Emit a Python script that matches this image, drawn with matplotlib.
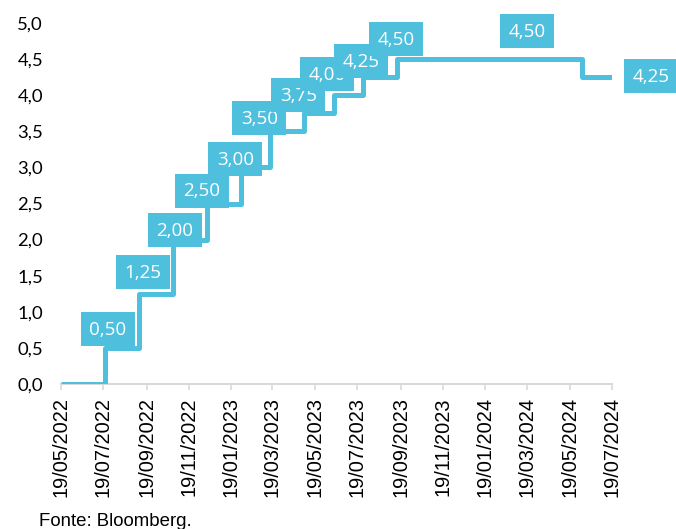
import matplotlib
matplotlib.use("Agg")
import matplotlib.pyplot as plt
import matplotlib.dates as mdates
import matplotlib.transforms as mtransforms
from matplotlib.patches import Rectangle
import pandas as pd

# policy rate path (% a.a.), one entry per change
RATE_DATES = ["2022-05-19", "2022-07-21", "2022-09-08", "2022-10-27", "2022-12-15",
              "2023-02-02", "2023-03-16", "2023-05-04", "2023-06-15", "2023-07-27",
              "2023-09-14", "2024-06-06", "2024-07-19"]
RATES = [0.00, 0.50, 1.25, 2.00, 2.50, 3.00, 3.50, 3.75, 4.00, 4.25, 4.50, 4.25, 4.25]

# dates where a boxed value label is shown
LABEL_DATES = ["2022-07-21", "2022-09-08", "2022-10-27", "2022-12-15", "2023-02-02",
               "2023-03-16", "2023-05-04", "2023-06-15", "2023-07-27", "2023-09-14",
               "2024-03-19", "2024-07-19"]
# box centre shift from the anchor point, in pixels
LABEL_SHIFT = [(3, 19), (4, 22), (2, 10), (-5, 13), (-6, 8), (-11, 13), (-6, 18),
               (-7, 21), (-2, 16), (-1, 20), (0, 28), (39, 1)]
BOX_W, BOX_H = 54, 34

BLUE = "#4EC0DE"

dates = pd.to_datetime(RATE_DATES)
rates = pd.Series(RATES, index=dates)

fig = plt.figure(figsize=(6.76, 5.29), dpi=100)
ax = fig.add_axes([61 / 676, 1 - 384 / 529, (612 - 61) / 676, (384 - 23) / 529])

ax.plot(dates, RATES, drawstyle="steps-post", color=BLUE, linewidth=3.6,
        solid_joinstyle="round", solid_capstyle="butt", zorder=2)

ax.set_xlim(dates[0], dates[-1])
ax.set_ylim(0, 5)


def fmt(v):
    return "{:.2f}".format(v).replace(".", ",")


for i, (d, (dx, dy)) in enumerate(zip(pd.to_datetime(LABEL_DATES), LABEL_SHIFT)):
    v = rates[rates.index <= d].iloc[-1]
    # fixed-size box in pixels, anchored at the data point
    anchor = mtransforms.ScaledTranslation(mdates.date2num(d), v, ax.transData)
    box = Rectangle((dx - BOX_W / 2, dy - BOX_H / 2), BOX_W, BOX_H,
                    transform=mtransforms.IdentityTransform() + anchor,
                    fc=BLUE, ec="none", zorder=3 + 2 * i, clip_on=False)
    ax.add_patch(box)
    ax.annotate(fmt(v), xy=(d, v), xytext=(dx, dy - 1), textcoords="offset pixels",
                ha="center", va="center", color="white", fontsize=13.5,
                family="Open Sans", zorder=4 + 2 * i, annotation_clip=False)

ticks = pd.date_range("2022-05-19", "2024-07-19", freq=pd.DateOffset(months=2))
ax.set_xticks(ticks)
ax.xaxis.set_major_formatter(mdates.DateFormatter("%d/%m/%Y"))
for lbl in ax.get_xticklabels():
    lbl.set_rotation(90)
    lbl.set_family("Liberation Sans")
    lbl.set_fontsize(14.4)
ax.tick_params(axis="x", length=4.5, width=1.2, color="#D9D9D9", pad=5)

yticks = [i * 0.5 for i in range(11)]
ax.set_yticks(yticks)
ax.set_yticklabels(["{:.1f}".format(t).replace(".", ",") for t in yticks],
                   family="Lato", fontsize=13.3)
ax.tick_params(axis="y", length=0, pad=13)

for side in ("top", "right", "left"):
    ax.spines[side].set_visible(False)
ax.spines["bottom"].set_color("#D9D9D9")
ax.spines["bottom"].set_linewidth(1.5)
ax.spines["bottom"].set_zorder(1)

fig.text(39 / 676, 1 - 526.5 / 529, "Fonte: Bloomberg.", family="Liberation Sans",
         fontsize=13.4, va="baseline", ha="left")

fig.savefig("out.png", dpi=100)
